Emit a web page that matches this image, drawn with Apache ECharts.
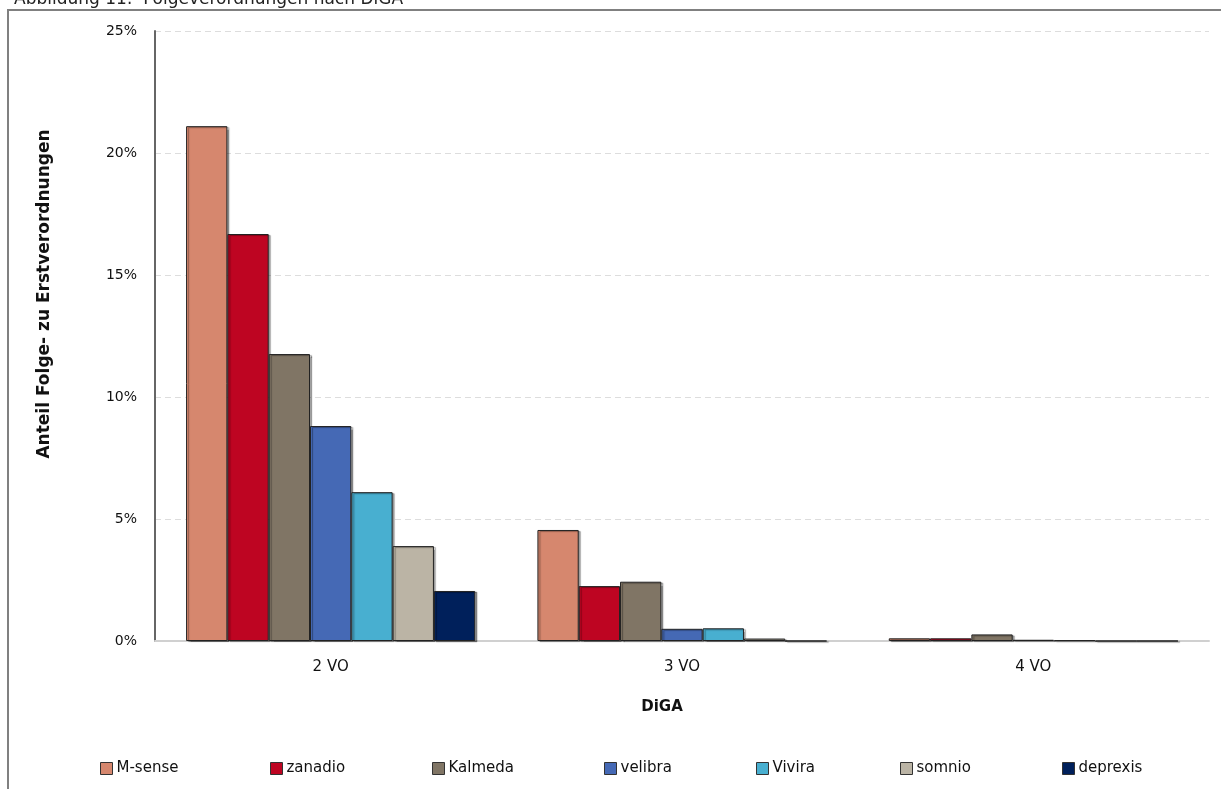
<!DOCTYPE html>
<html><head><meta charset="utf-8">
<script src="https://cdn.jsdelivr.net/npm/echarts@6/dist/echarts.min.js"></script>
<style>html,body{margin:0;padding:0;background:#fff}#c{width:1221px;height:789px}</style>
</head><body><div id="c"></div>
<script>
const categories = ['2 VO', '3 VO', '4 VO'];
const seriesNames = ['M-sense', 'zanadio', 'Kalmeda', 'velibra', 'Vivira', 'somnio', 'deprexis'];
const mSense   = [21.1, 4.55, 0.11];
const zanadio  = [16.68, 2.25, 0.11];
const kalmeda  = [11.76, 2.43, 0.27];
const velibra  = [8.81, 0.50, 0.05];
const vivira   = [6.10, 0.52, 0.03];
const somnio   = [3.89, 0.10, 0];
const deprexis = [2.05, 0, 0];
const yTicks = [0, 5, 10, 15, 20, 25];
const colors = ['#D6876E', '#BE0522', '#807565', '#4569B5', '#48AFD0', '#BBB4A5', '#00205B'];
const values = [mSense, zanadio, kalmeda, velibra, vivira, somnio, deprexis];
const legendLeft = [100, 270, 432, 604, 756, 900, 1062];

const font = 'DejaVu Sans';
const chart = echarts.init(document.getElementById('c'));
chart.setOption({
  animation: false,
  textStyle: { fontFamily: font },
  graphic: [
    { type: 'rect', shape: { x: 8, y: 10, width: 1300, height: 900 }, style: { fill: 'none', stroke: '#808080', lineWidth: 2 }, z: 0 },
    { type: 'text', left: 14, top: -9, style: { text: 'Abbildung 11:  Folgeverordnungen nach DiGA', font: '17px "DejaVu Sans"', fill: '#222' } },
    { type: 'text', x: 45, y: 294, rotation: Math.PI / 2, style: { text: 'Anteil Folge- zu Erstverordnungen', font: 'bold 17px "DejaVu Sans"', fill: '#111', align: 'center', verticalAlign: 'middle' } },
    { type: 'text', x: 662, y: 707, style: { text: 'DiGA', font: 'bold 15px "DejaVu Sans"', fill: '#111', align: 'center', verticalAlign: 'middle' } }
  ],
  legend: seriesNames.map((n, i) => ({
    bottom: 13, left: legendLeft[i], padding: 0,
    itemWidth: 12, itemHeight: 12, itemGap: 0,
    icon: 'rect',
    textStyle: { fontFamily: font, fontSize: 15, color: '#111', padding: [0, 0, 0, -1] },
    data: [{ name: n, itemStyle: { color: colors[i], borderColor: '#333', borderWidth: 1 } }]
  })),
  grid: { left: 155, right: 12, top: 31, bottom: 148, containLabel: false },
  xAxis: {
    type: 'category', data: categories,
    axisLine: { lineStyle: { color: '#d0d0d0', width: 2 } },
    axisTick: { show: false },
    axisLabel: { color: '#111', fontSize: 15, margin: 19, fontFamily: font }
  },
  yAxis: {
    type: 'value', min: 0, max: 25, interval: 5,
    axisLine: { show: true, lineStyle: { color: '#666', width: 2 } },
    axisTick: { show: false },
    axisLabel: { color: '#111', fontSize: 14, margin: 18, fontFamily: font, formatter: v => yTicks.includes(v) ? v + '%' : '' },
    splitLine: { lineStyle: { color: '#dddddd', type: [6, 4], width: 1 } }
  },
  series: seriesNames.map((n, i) => ({
    name: n, type: 'bar', data: values[i],
    barGap: '0%', barCategoryGap: '17.7%',
    itemStyle: { color: colors[i], borderColor: '#222', borderWidth: 1, shadowColor: 'rgba(0,0,0,0.35)', shadowOffsetX: 2, shadowOffsetY: 1, shadowBlur: 1 }
  }))
});
</script></body></html>
